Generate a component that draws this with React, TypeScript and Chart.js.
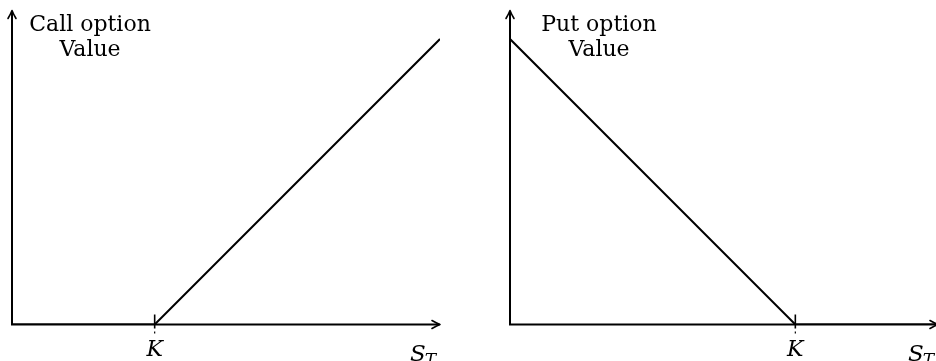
import React, { useEffect, useRef } from "react";
import { Chart, registerables } from "chart.js";

Chart.register(...registerables);

// ---- data ----
const callSpot = [0, 1, 3];
const callValue = [0, 0, 2];
const callStrike = 1;

const putSpot = [0, 2, 3];
const putValue = [2, 0, 0];
const putStrike = 2;

const xMax = 3;
const yMax = 2.2;

const callTitle = ["Call option", "Value"];
const putTitle = ["Put option", "Value"];
const strikeLabel = "K";
const spotLabel = "S";
const spotSub = "T";

const FONT = "'DejaVu Serif', 'Liberation Serif', serif";

function arrowHead(ctx: CanvasRenderingContext2D, x: number, y: number, dir: "right" | "up") {
  const L = 8;
  const W = 4;
  ctx.save();
  ctx.translate(x, y);
  if (dir === "up") ctx.rotate(-Math.PI / 2);
  ctx.beginPath();
  ctx.moveTo(-L, -W);
  ctx.quadraticCurveTo(-L * 0.35, -W * 0.25, 0, 0);
  ctx.quadraticCurveTo(-L * 0.35, W * 0.25, -L, W);
  ctx.lineWidth = 1.6;
  ctx.lineJoin = "round";
  ctx.lineCap = "round";
  ctx.strokeStyle = "#000";
  ctx.stroke();
  ctx.restore();
}

const payoffAxes = {
  id: "payoffAxes",
  afterDraw(chart: any, _args: any, opts: any) {
    const ctx: CanvasRenderingContext2D = chart.ctx;
    const xs = chart.scales.x;
    const ys = chart.scales.y;
    const x0 = xs.getPixelForValue(0);
    const y0 = ys.getPixelForValue(0);
    const xEnd = xs.getPixelForValue(xs.max);
    const yTop = ys.getPixelForValue(ys.max);
    ctx.save();
    ctx.strokeStyle = "#000";
    ctx.lineWidth = 2;
    ctx.lineCap = "butt";
    ctx.beginPath();
    ctx.moveTo(x0 - 1, y0);
    ctx.lineTo(xEnd - 0.5, y0);
    ctx.moveTo(x0, y0 + 1);
    ctx.lineTo(x0, yTop + 0.5);
    ctx.stroke();
    arrowHead(ctx, xEnd, y0, "right");
    arrowHead(ctx, x0, yTop, "up");

    // strike tick
    const kx = xs.getPixelForValue(opts.strike);
    ctx.lineWidth = 1.6;
    ctx.beginPath();
    ctx.moveTo(kx, y0 - 10);
    ctx.lineTo(kx, y0 + 4);
    ctx.stroke();
    ctx.lineWidth = 1.2;
    ctx.beginPath();
    ctx.moveTo(kx, y0 + 7);
    ctx.lineTo(kx, y0 + 9);
    ctx.stroke();

    ctx.fillStyle = "#000";
    ctx.textBaseline = "alphabetic";
    // K label
    ctx.font = `italic 22px ${FONT}`;
    ctx.textAlign = "center";
    ctx.fillText(strikeLabel, kx, y0 + 31);

    // S_T label
    ctx.textAlign = "left";
    const sx = xEnd - 30;
    const sy = y0 + 36;
    ctx.font = `italic 23px ${FONT}`;
    ctx.fillText(spotLabel, sx, sy);
    const sw = ctx.measureText(spotLabel).width;
    ctx.font = `italic 17px ${FONT}`;
    ctx.fillText(spotSub, sx + sw - 1, sy + 4);

    // title
    ctx.font = `22px ${FONT}`;
    ctx.textAlign = "center";
    const lines: string[] = opts.title;
    lines.forEach((t, i) => {
      ctx.fillText(t, x0 + opts.titleDx, yTop + 20 + i * 25);
    });
    ctx.restore();
  },
};

function Panel({ spot, value, strike, title, titleDx, left }: any) {
  const ref = useRef<HTMLCanvasElement>(null);
  useEffect(() => {
    if (!ref.current) return;
    const chart = new Chart(ref.current, {
      type: "scatter",
      data: {
        datasets: [
          {
            data: spot.map((s: number, i: number) => ({ x: s, y: value[i] })),
            showLine: true,
            borderColor: "#000",
            borderWidth: 2,
            pointRadius: 0,
            fill: false,
          },
        ],
      },
      options: {
        responsive: false,
        animation: false,
        devicePixelRatio: 1,
        layout: { padding: { left: 12, right: 28, top: 10.5, bottom: 36.5 } },
        scales: {
          x: { type: "linear", min: 0, max: xMax, display: false },
          y: { type: "linear", min: 0, max: yMax, display: false },
        },
        plugins: {
          legend: { display: false },
          tooltip: { enabled: false },
          payoffAxes: { strike, title, titleDx },
        } as any,
      },
      plugins: [payoffAxes],
    });
    return () => chart.destroy();
  }, []);
  return (
    <canvas
      ref={ref}
      width={468}
      height={361}
      style={{ position: "absolute", left, top: 0, width: 468, height: 361 }}
    />
  );
}

export default function App() {
  return (
    <div
      style={{
        position: "absolute",
        left: 0,
        top: 0,
        width: 936,
        height: 361,
        overflow: "hidden",
        background: "#fff",
      }}
    >
      <Panel spot={callSpot} value={callValue} strike={callStrike} title={callTitle} titleDx={78} left={0} />
      <Panel spot={putSpot} value={putValue} strike={putStrike} title={putTitle} titleDx={89} left={498} />
    </div>
  );
}
